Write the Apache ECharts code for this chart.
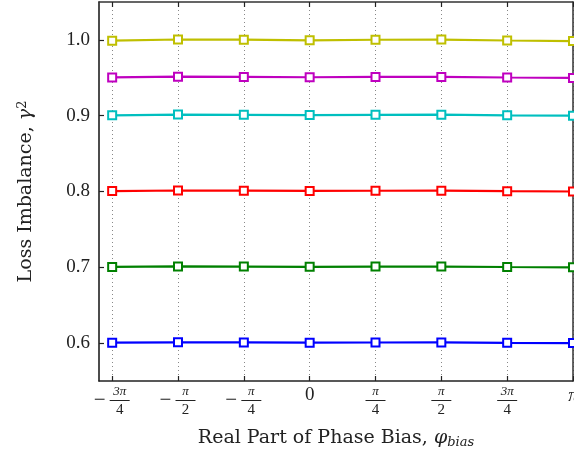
<!DOCTYPE html>
<html>
<head>
<meta charset="utf-8">
<script src="https://cdn.jsdelivr.net/npm/echarts@6/dist/echarts.min.js"></script>
<style>
  html, body { margin: 0; padding: 0; background: #fff; }
  #chart { width: 574px; height: 453px; }
</style>
</head>
<body>
<div id="chart"></div>
<script>
/* x in units of pi/4 */
var xVals = [-3, -2, -1, 0, 1, 2, 3, 4];
var xTickLabels = ['−3π/4', '−π/2', '−π/4', '0', 'π/4', 'π/2', '3π/4', 'π'];
var yTickVals = [0.6, 0.7, 0.8, 0.9, 1.0];

var seriesNames = ['g06', 'g07', 'g08', 'g09', 'g095', 'g10'];
var seriesColors = ['#0000ff', '#008000', '#ff0000', '#00bfbf', '#bf00bf', '#bfbf00'];
var blueVals    = [0.6005, 0.6010, 0.6009, 0.6006, 0.6008, 0.6009, 0.6004, 0.6000];
var greenVals   = [0.7005, 0.7012, 0.7010, 0.7006, 0.7009, 0.7010, 0.7004, 0.7000];
var redVals     = [0.8005, 0.8013, 0.8011, 0.8007, 0.8010, 0.8011, 0.8004, 0.8000];
var cyanVals    = [0.9005, 0.9015, 0.9012, 0.9008, 0.9012, 0.9013, 0.9005, 0.9000];
var magentaVals = [0.9505, 0.9515, 0.9512, 0.9507, 0.9511, 0.9512, 0.9504, 0.9498];
var yellowVals  = [0.9990, 1.0005, 1.0003, 0.9995, 1.0002, 1.0004, 0.9992, 0.9985];
var allVals = [blueVals, greenVals, redVals, cyanVals, magentaVals, yellowVals];

var FONT = '"Liberation Serif", "DejaVu Serif", serif';
var NAMEFONT = '"DejaVu Serif", "Liberation Serif", serif';
var INK = '#222';

/*tick label as stacked fraction*/
function fracLabel(value) {
    var i = xVals.indexOf(Math.round(value));
    if (i < 0) return '';
    var s = xTickLabels[i];
    var neg = s.charAt(0) === '−';
    var body = neg ? s.slice(1) : s;
    if (body.indexOf('/') < 0) {
        return body === 'π' ? '{wpi|π}' : '{whole|' + body + '}';
    }
    var p = body.split('/');
    var l1 = (neg ? '{gap|}' : '') + '{num|' + p[0] + '}';
    var l2 = (neg ? '{minus|−}' : '') + '{bar|}';
    var l3 = (neg ? '{gap|}' : '') + '{den|' + p[1] + '}';
    return l1 + '\n' + l2 + '\n' + l3;
}

var series = [];
for (var k = 0; k < allVals.length; k++) {
    series.push({
        name: seriesNames[k],
        type: 'line',
        data: xVals.map(function (x, j) { return [x, allVals[k][j]]; }),
        symbol: 'emptyRect',
        symbolSize: 8,
        showSymbol: true,
        animation: false,
        lineStyle: { color: seriesColors[k], width: 2.2 },
        itemStyle: { color: seriesColors[k], borderColor: seriesColors[k], borderWidth: 2 }
    });
}

var option = {
    backgroundColor: '#fff',
    animation: false,
    grid: { left: 99, right: 1, top: 2, bottom: 72, outerBoundsMode: 'none', containLabel: false },
    xAxis: [
        {
            type: 'value',
            position: 'bottom',
            min: -3.2,
            max: 4,
            name: 'Real Part of Phase Bias, {i|φ}{sub|bias}',
            nameLocation: 'middle',
            nameGap: 47,
            nameTextStyle: {
                fontFamily: NAMEFONT, fontSize: 19, color: INK,
                rich: {
                    i: { fontFamily: NAMEFONT, fontSize: 19, fontStyle: 'italic', color: INK },
                    sub: { fontFamily: NAMEFONT, fontSize: 13, fontStyle: 'italic', color: INK, padding: [8, 0, 0, 0] }
                }
            },
            axisLine: { show: true, onZero: false, lineStyle: { color: INK, width: 1.5 } },
            axisTick: { show: true, inside: true, length: 5, customValues: xVals, lineStyle: { color: INK, width: 1.2 } },
            axisLabel: {
                customValues: xVals,
                margin: 5,
                formatter: fracLabel,
                color: INK,
                fontFamily: FONT,
                hideOverlap: false,
                showMaxLabel: true,
                rich: {
                    gap: { width: 15, fontSize: 10, lineHeight: 12 },
                    minus: { width: 15, fontFamily: FONT, fontSize: 21, lineHeight: 5, color: INK, align: 'left' },
                    num: { width: 22, align: 'center', fontFamily: FONT, fontSize: 13, fontStyle: 'italic', lineHeight: 12, color: INK },
                    bar: { width: 20, height: 1, backgroundColor: INK, lineHeight: 5 },
                    den: { width: 22, align: 'center', fontFamily: FONT, fontSize: 15, lineHeight: 15, color: INK },
                    whole: { fontFamily: FONT, fontSize: 19, lineHeight: 19, color: INK },
                    wpi: { fontFamily: FONT, fontSize: 19, fontStyle: 'italic', lineHeight: 19, color: INK }
                }
            },
            splitLine: { show: true, lineStyle: { color: '#888', width: 1, type: [1, 3] } }
        },
        {
            type: 'value',
            position: 'top',
            min: -3.2,
            max: 4,
            axisLine: { show: true, onZero: false, lineStyle: { color: '#333', width: 1.5 } },
            axisTick: { show: true, inside: true, length: 5, customValues: xVals, lineStyle: { color: INK, width: 1.2 } },
            axisLabel: { show: false },
            splitLine: { show: false }
        }
    ],
    yAxis: [
        {
            type: 'value',
            position: 'left',
            min: 0.55,
            max: 1.05,
            name: 'Loss Imbalance, {i|γ}{sup|2}',
            nameLocation: 'middle',
            nameGap: 62,
            nameRotate: 90,
            nameTextStyle: {
                fontFamily: NAMEFONT, fontSize: 19, color: INK,
                rich: {
                    i: { fontFamily: NAMEFONT, fontSize: 19, fontStyle: 'italic', color: INK },
                    sup: { fontFamily: NAMEFONT, fontSize: 13, color: INK, padding: [0, 0, 8, 0] }
                }
            },
            axisLine: { show: true, onZero: false, lineStyle: { color: '#111', width: 1.5 } },
            axisTick: { show: true, inside: true, length: 5, customValues: yTickVals, lineStyle: { color: INK, width: 1.2 } },
            axisLabel: {
                customValues: yTickVals,
                margin: 9,
                color: INK,
                fontFamily: FONT,
                fontSize: 19,
                formatter: function (v) { return v.toFixed(1); }
            },
            splitLine: { show: false }
        },
        {
            type: 'value',
            position: 'right',
            min: 0.55,
            max: 1.05,
            axisLine: { show: true, onZero: false, lineStyle: { color: '#333', width: 1.5 } },
            axisTick: { show: false },
            axisLabel: { show: false },
            splitLine: { show: false }
        }
    ],
    series: series
};

var myChart = echarts.init(document.getElementById('chart'));
myChart.setOption(option);
</script>
</body>
</html>
